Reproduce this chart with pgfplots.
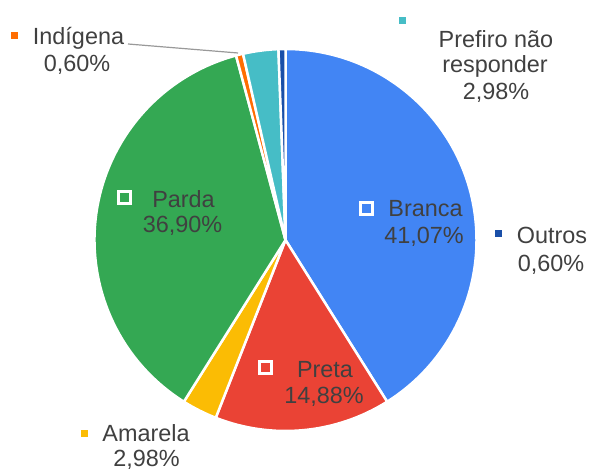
\documentclass[border=0pt]{standalone}
\usepackage{pgfplots}
\usepackage{pgfplotstable}
\pgfplotsset{compat=1.18}
\usepackage{fontspec}
\setmainfont{Liberation Sans}
\definecolor{cBranca}{HTML}{4285F4}
\definecolor{cPreta}{HTML}{EA4335}
\definecolor{cAmarela}{HTML}{FBBC04}
\definecolor{cParda}{HTML}{34A853}
\definecolor{cIndigena}{HTML}{FF6D01}
\definecolor{cPrefiro}{HTML}{46BDC6}
\definecolor{cOutros}{HTML}{1A4FA8}
\definecolor{txt}{HTML}{404040}
\pgfplotstableread{
pct col
41.07 cBranca
14.88 cPreta
2.98 cAmarela
36.90 cParda
0.60 cIndigena
2.98 cPrefiro
0.60 cOutros
}\piedata
\begin{document}
\begin{tikzpicture}
\begin{axis}[width=590bp,height=471bp,scale only axis,xmin=0,xmax=590,ymin=0,ymax=471,hide axis,clip=false]
\path (axis cs:0,0) rectangle (axis cs:590,471);
\def\cum{0}
\pgfplotsforeachungrouped \i in {0,...,6}{%
  \pgfplotstablegetelem{\i}{pct}\of\piedata \let\pval\pgfplotsretval
  \pgfplotstablegetelem{\i}{col}\of\piedata \let\scol\pgfplotsretval
  \pgfmathsetmacro\angA{90-3.6*\cum}%
  \pgfmathsetmacro\cum{\cum+\pval}%
  \pgfmathsetmacro\angB{90-3.6*\cum}%
  \edef\temp{\noexpand\fill[\scol,draw=white,line width=2.5bp,line join=round] (axis cs:285.5,231) -- ++(\angA:191bp) arc[start angle=\angA,end angle=\angB,radius=191bp] -- cycle;}%
  \temp
}
% leader line
\draw[black!40, line width=1.2bp] (axis cs:128,427) -- (axis cs:238,418);
% external markers
\fill[cIndigena] (axis cs:14,435.5) ++(-3.5bp,-3.5bp) rectangle ++(7bp,7bp);
\fill[cPrefiro] (axis cs:402.5,450.5) ++(-3.5bp,-3.5bp) rectangle ++(7bp,7bp);
\fill[cOutros] (axis cs:498,237.5) ++(-3.5bp,-3.5bp) rectangle ++(7bp,7bp);
\fill[cAmarela] (axis cs:84,38) ++(-3.5bp,-3.5bp) rectangle ++(7bp,7bp);
% internal markers
\filldraw[fill=cParda,draw=white,line width=3bp] (axis cs:124.5,273.5) ++(-6bp,-6bp) rectangle ++(12bp,12bp);
\filldraw[fill=cBranca,draw=white,line width=3bp] (axis cs:366.5,262.5) ++(-6bp,-6bp) rectangle ++(12bp,12bp);
\filldraw[fill=cPreta,draw=white,line width=3bp] (axis cs:265,104) ++(-6bp,-6bp) rectangle ++(12bp,12bp);
% labels
\tikzset{lbl/.style={anchor=base,text=txt,inner sep=0pt,font=\fontsize{23.5}{27}\selectfont}}
\node[lbl] at (axis cs:78.5,426) {Indígena};
\node[lbl] at (axis cs:77,399) {0,60\%};
\node[lbl] at (axis cs:496,423) {Prefiro não};
\node[lbl] at (axis cs:495,398) {responder};
\node[lbl] at (axis cs:496,371) {2,98\%};
\node[lbl] at (axis cs:183.5,263) {Parda};
\node[lbl] at (axis cs:182.5,238) {36,90\%};
\node[lbl] at (axis cs:425.5,254) {Branca};
\node[lbl] at (axis cs:424,228) {41,07\%};
\node[lbl] at (axis cs:552,228) {Outros};
\node[lbl] at (axis cs:551,200) {0,60\%};
\node[lbl] at (axis cs:325,94) {Preta};
\node[lbl] at (axis cs:324,68) {14,88\%};
\node[lbl] at (axis cs:146,30) {Amarela};
\node[lbl] at (axis cs:146.5,5) {2,98\%};
\end{axis}
\end{tikzpicture}
\end{document}
